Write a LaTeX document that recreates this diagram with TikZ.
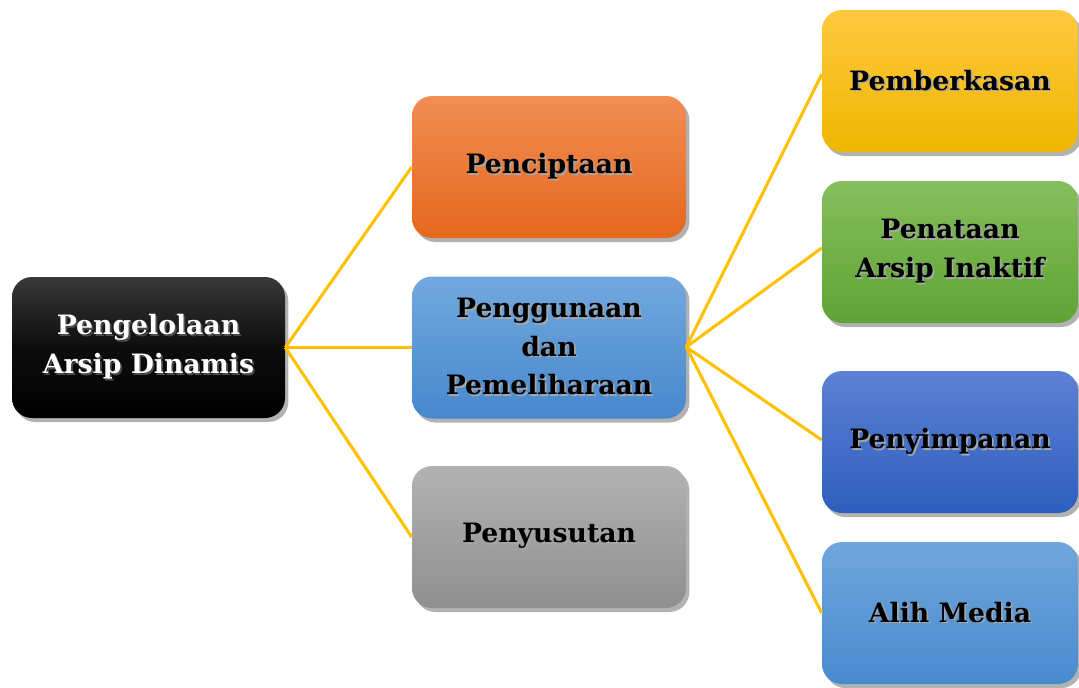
\documentclass[tikz,border=0pt]{standalone}
\usepackage{fontspec}
\setmainfont{DejaVu Serif}
\usetikzlibrary{shadows}
\definecolor{gold}{HTML}{FFC000}
\newcommand\shcol{black!35}
\newcommand\shl[1]{\leavevmode\rlap{\kern1.3pt\raisebox{-1.3pt}{\textcolor{\shcol}{#1}}}#1}
\tikzset{
  box/.style={rounded corners=15pt, align=center, font=\bfseries\fontsize{20}{29}\selectfont,
    inner sep=0pt, minimum height=106.5pt,
    drop shadow={shadow xshift=2.5pt, shadow yshift=-3pt, opacity=0.3, fill=black}},
  midbox/.style={box, minimum width=205.5pt},
  rbox/.style={box, minimum width=192pt},
  conn/.style={draw=gold, line width=2.3pt},
}
\begin{document}
\begin{tikzpicture}[x=0.75pt,y=-0.75pt]
\useasboundingbox (0,0) rectangle (1079,687);
% root
\node[box, minimum width=204.75pt, minimum height=105.75pt, top color=black!78, bottom color=black, middle color=black!95, text=white]
  (root) at (148.5,347.5) {\renewcommand\shcol{black!70}\shl{Pengelolaan}\\\renewcommand\shcol{black!70}\shl{Arsip Dinamis}};
% middle column
\node[midbox, top color={rgb,255:red,242;green,141;blue,84}, bottom color={rgb,255:red,228;green,104;blue,28}]
  (cipta) at (549,167) {\shl{Penciptaan}};
\node[midbox, top color={rgb,255:red,114;green,168;blue,222}, bottom color={rgb,255:red,70;green,136;blue,206}]
  (guna) at (549,347.5) {\shl{Penggunaan}\\\shl{dan}\\\shl{Pemeliharaan}};
\node[midbox, top color={rgb,255:red,178;green,178;blue,178}, bottom color={rgb,255:red,143;green,143;blue,143}]
  (susut) at (549,537) {\shl{Penyusutan}};
% right column
\node[rbox, top color={rgb,255:red,255;green,200;blue,62}, bottom color={rgb,255:red,240;green,182;blue,0}]
  (berkas) at (950,81) {\shl{Pemberkasan}};
\node[rbox, top color={rgb,255:red,134;green,190;blue,92}, bottom color={rgb,255:red,94;green,164;blue,52}]
  (tata) at (950,252) {\shl{Penataan}\\\shl{Arsip Inaktif}};
\node[rbox, top color={rgb,255:red,92;green,128;blue,212}, bottom color={rgb,255:red,46;green,94;blue,190}]
  (simpan) at (950,442) {\shl{Penyimpanan}};
\node[rbox, top color={rgb,255:red,112;green,166;blue,220}, bottom color={rgb,255:red,72;green,138;blue,208}]
  (alih) at (950,613) {\shl{Alih Media}};
% connectors
\coordinate (rootout) at (root.east);
\coordinate (gunaout) at ([yshift=0.375pt]guna.east);
\draw[conn] (rootout) -- (cipta.west);
\draw[conn] (rootout) -- (guna.west);
\draw[conn] (rootout) -- (susut.west);
\draw[conn] (gunaout) -- ([yshift=5pt]berkas.west);
\draw[conn] (gunaout) -- ([yshift=3pt]tata.west);
\draw[conn] (gunaout) -- ([yshift=1.5pt]simpan.west);
\draw[conn] (gunaout) -- (alih.west);
\end{tikzpicture}
\end{document}
